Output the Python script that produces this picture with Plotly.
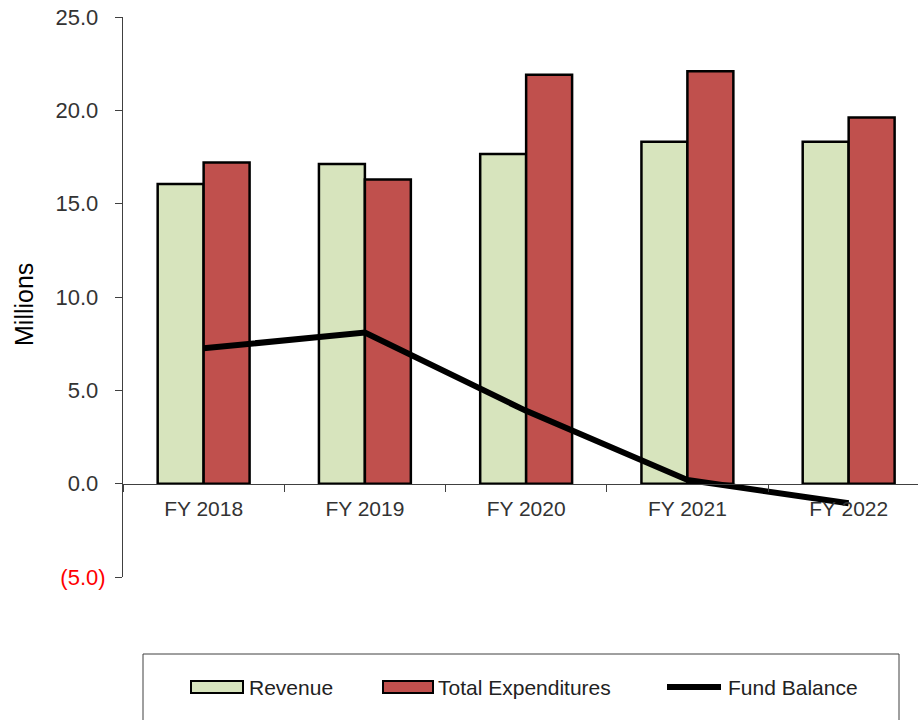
import plotly.graph_objects as go

categories = ["FY 2018", "FY 2019", "FY 2020", "FY 2021", "FY 2022"]
revenue = [16.05, 17.12, 17.66, 18.32, 18.32]
expenditures = [17.2, 16.3, 21.9, 22.1, 19.62]
fund_balance = [7.25, 8.1, 3.9, 0.2, -1.05]
ytick_vals = [-5, 0, 5, 10, 15, 20, 25]
ytick_labels = ["(5.0)", "0.0", "5.0", "10.0", "15.0", "20.0", "25.0"]

FONT = "Arial, Liberation Sans, sans-serif"
REV_COLOR = "#D7E4BD"
EXP_COLOR = "#C0504D"

# Excel-style number format: positives padded by an invisible ")" ; negatives in red
ytick_text = [
    ('<span style="color:#FF0000">%s</span>' % t) if v < 0
    else ('%s<span style="color:rgba(0,0,0,0)">)</span>' % t)
    for v, t in zip(ytick_vals, ytick_labels)
]

W, H = 918, 720
ML, MR, MT, MB = 123, 0, 17, 143
PW, PH = W - ML - MR, H - MT - MB


def px(x):
    return (x - ML) / PW


def py(y):
    return (H - MB - y) / PH


fig = go.Figure()
fig.add_trace(go.Bar(x=categories, y=revenue, name="Revenue",
                     marker=dict(color=REV_COLOR, line=dict(color="#000000", width=2.5))))
fig.add_trace(go.Bar(x=categories, y=expenditures, name="Total Expenditures",
                     marker=dict(color=EXP_COLOR, line=dict(color="#000000", width=2.5))))
fig.add_trace(go.Scatter(x=categories, y=fund_balance, name="Fund Balance", mode="lines",
                         line=dict(color="#000000", width=6)))

fig.update_layout(
    width=W, height=H,
    margin=dict(l=ML, r=MR, t=MT, b=MB, autoexpand=False),
    paper_bgcolor="white", plot_bgcolor="white",
    barmode="group", bargap=0.43, bargroupgap=0,
    showlegend=False,
    font=dict(family=FONT, size=21, color="#333333"),
)
fig.update_xaxes(
    range=[-0.5, 4.43], anchor="free", position=5 / 30,
    showline=True, linecolor="#404040", linewidth=1,
    ticks="outside", tickson="boundaries", ticklen=7, tickcolor="#404040",
    showgrid=False, zeroline=False, ticklabelstandoff=6,
    tickfont=dict(size=21, color="#333333"),
)
fig.update_yaxes(
    range=[-5, 25], tickvals=ytick_vals, ticktext=ytick_text,
    showline=True, linecolor="#404040", linewidth=1,
    ticks="outside", ticklen=7, tickcolor="#404040",
    showgrid=False, zeroline=False, ticklabelstandoff=5,
    tickfont=dict(size=22, color="#333333"),
)

# y-axis title
fig.add_annotation(text="Millions", xref="paper", yref="paper", x=px(24), y=py(305),
                   showarrow=False, textangle=-90, font=dict(size=25, color="#000000"),
                   xanchor="center", yanchor="middle")

# Legend box (manual)
shapes = [
    dict(type="rect", xref="paper", yref="paper", x0=px(143), x1=px(899), y0=py(654), y1=py(740),
         line=dict(color="#404040", width=1), fillcolor="rgba(0,0,0,0)", layer="above"),
    dict(type="rect", xref="paper", yref="paper", x0=px(191), x1=px(243), y0=py(681), y1=py(693),
         line=dict(color="#000000", width=2), fillcolor=REV_COLOR, layer="above"),
    dict(type="rect", xref="paper", yref="paper", x0=px(383), x1=px(433), y0=py(681), y1=py(693),
         line=dict(color="#000000", width=2), fillcolor=EXP_COLOR, layer="above"),
    dict(type="line", xref="paper", yref="paper", x0=px(667), x1=px(721), y0=py(687), y1=py(687),
         line=dict(color="#000000", width=6), layer="above"),
]
fig.update_layout(shapes=shapes)
for txt, x in [("Revenue", 247), ("Total Expenditures", 436), ("Fund Balance", 726)]:
    fig.add_annotation(text=txt, xref="paper", yref="paper", x=px(x), y=py(687),
                       showarrow=False, xanchor="left", yanchor="middle",
                       font=dict(size=21, color="#222222"))

fig.write_html("out.html")
